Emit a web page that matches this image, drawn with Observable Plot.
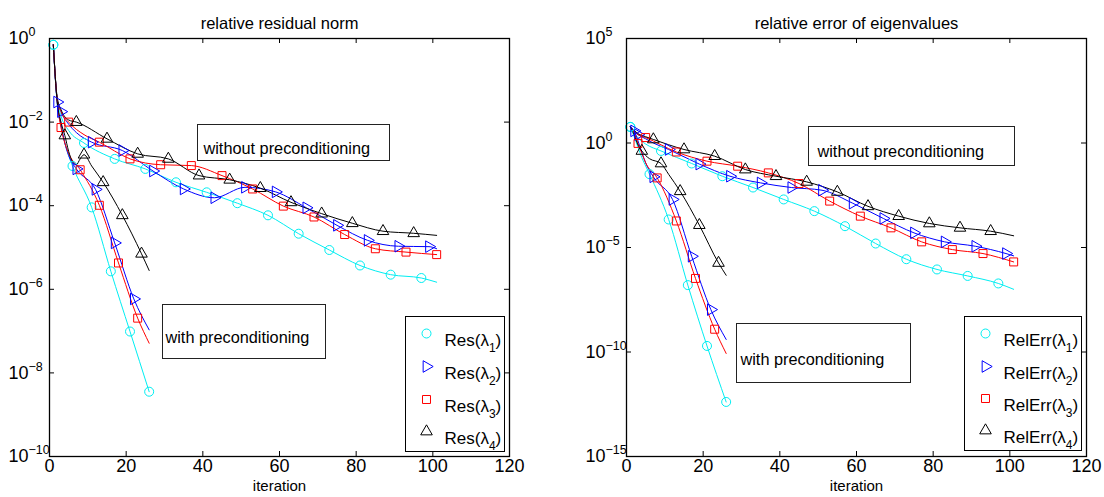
<!DOCTYPE html>
<html><head><meta charset="utf-8">
<script src="https://cdn.jsdelivr.net/npm/d3@7"></script>
<script src="https://cdn.jsdelivr.net/npm/@observablehq/plot@0.6"></script>
<style>
body{margin:0;background:#fff;}
#wrap{display:flex;width:1104px;height:497px;overflow:hidden;}
</style></head><body><div id="wrap"></div>
<script>
// ---------- tick labels ----------
const iterTicks = [0, 20, 40, 60, 80, 100, 120];
const resTickExp = [0, -2, -4, -6, -8, -10];
const errTickExp = [5, 0, -5, -10, -15];

// ---------- titles / labels ----------
const titles = ["relative residual norm", "relative error of eigenvalues"];
const xLabel = "iteration";
const resNames = ["Res(λ_1)", "Res(λ_2)", "Res(λ_3)", "Res(λ_4)"];
const errNames = ["RelErr(λ_1)", "RelErr(λ_2)", "RelErr(λ_3)", "RelErr(λ_4)"];
const noteTexts = ["without preconditioning", "with preconditioning"];

// ---------- relative residual norm: [iteration, log10(value)] ----------
const res1Plain = [[1,-0.15],[2,-1.45],[3,-1.85],[5,-2.2],[9,-2.50],[17,-2.88],[25,-3.12],[33,-3.44],[41,-3.68],[49,-3.94],[57,-4.23],[65,-4.67],[73,-5.06],[81,-5.43],[89,-5.65],[97,-5.73],[101,-5.83]];
const res2Plain = [[1,-0.15],[2,-1.45],[3,-1.75],[5,-2.05],[7,-2.25],[11,-2.48],[19,-2.68],[27,-3.17],[35,-3.60],[43,-3.81],[51,-3.56],[59,-3.67],[67,-4.05],[75,-4.47],[83,-4.83],[91,-4.97],[99,-4.98],[101,-5.03]];
const res3Plain = [[1,-0.15],[2,-1.45],[3,-1.75],[5,-2.0],[9,-2.3],[13,-2.48],[21,-2.88],[29,-3.02],[37,-3.04],[45,-3.28],[53,-3.60],[61,-4.01],[69,-4.27],[77,-4.69],[85,-5.03],[93,-5.11],[101,-5.17]];
const res4Plain = [[1,-0.15],[2,-1.4],[3,-1.7],[5,-1.95],[7,-2.0],[15,-2.40],[23,-2.76],[31,-2.88],[39,-3.28],[47,-3.38],[55,-3.58],[63,-3.92],[71,-4.19],[79,-4.42],[87,-4.61],[95,-4.66],[101,-4.71]];
const res1Pre = [[1,-0.15],[2,-1.55],[3,-2.1],[4,-2.5],[5,-2.8],[6,-3.05],[11,-4.04],[16,-5.57],[21,-7.01],[26,-8.45]];
const res2Pre = [[1,-0.15],[2,-1.52],[3,-2.05],[4,-2.5],[5,-2.8],[7,-3.12],[12,-3.61],[17,-4.89],[22,-6.23],[26,-6.97]];
const res3Pre = [[1,-0.15],[2,-1.5],[3,-2.13],[4,-2.5],[5,-2.75],[8,-3.14],[13,-3.99],[18,-5.37],[23,-6.69],[26,-7.29]];
const res4Pre = [[1,-0.15],[2,-1.5],[3,-2.0],[4,-2.32],[5,-2.7],[6,-2.95],[7,-3.02],[8,-2.88],[9,-2.78],[11,-3.05],[14,-3.44],[19,-4.23],[24,-5.15],[26,-5.55]];

// ---------- relative error of eigenvalues: [iteration, log10(value)] ----------
const err1Plain = [[1,0.77],[2,0.5],[3,0.25],[5,-0.05],[9,-0.38],[17,-0.98],[25,-1.59],[33,-2.13],[41,-2.70],[49,-3.26],[57,-3.98],[65,-4.81],[73,-5.56],[81,-6.05],[89,-6.36],[97,-6.72],[101,-7.00]];
const err2Plain = [[1,0.77],[2,0.55],[3,0.4],[5,0.2],[7,0.0],[11,-0.31],[19,-1.01],[27,-1.59],[35,-1.91],[43,-2.13],[51,-2.26],[59,-2.88],[67,-3.61],[75,-4.30],[83,-4.73],[91,-4.94],[99,-5.29],[101,-5.40]];
const err3Plain = [[1,0.77],[2,0.55],[3,0.4],[5,0.26],[13,-0.43],[21,-0.87],[29,-1.11],[37,-1.43],[45,-1.94],[53,-2.78],[61,-3.50],[69,-4.06],[77,-4.73],[85,-5.10],[93,-5.29],[101,-5.69]];
const err4Plain = [[1,0.77],[2,0.6],[3,0.45],[5,0.3],[7,0.17],[15,-0.31],[23,-0.63],[31,-1.27],[39,-1.59],[47,-1.86],[55,-2.34],[63,-3.03],[71,-3.50],[79,-3.85],[87,-4.06],[95,-4.22],[101,-4.44]];
const err1Pre = [[1,0.77],[2,0.3],[3,-0.2],[4,-0.7],[5,-1.1],[6,-1.49],[11,-3.66],[16,-6.80],[21,-9.71],[26,-12.39]];
const err2Pre = [[1,0.77],[2,0.58],[3,0.1],[4,-0.45],[5,-0.95],[7,-1.62],[12,-2.70],[17,-5.42],[22,-7.97],[26,-9.40]];
const err3Pre = [[1,0.77],[2,0.5],[3,-0.02],[4,-0.5],[5,-0.95],[8,-1.67],[13,-3.73],[18,-6.48],[23,-8.91],[26,-10.07]];
const err4Pre = [[1,0.77],[2,0.4],[3,-0.1],[4,-0.38],[5,-0.6],[6,-0.75],[9,-0.98],[11,-1.5],[14,-2.31],[19,-3.93],[24,-5.74],[26,-6.33]];

// ---------- styles ----------
const colors = ["#00eef2", "#0000ff", "#ff0000", "#000000"];
const triRight = {
  draw(ctx, size) {
    const y = -Math.sqrt(size / (Math.sqrt(3) * 3));
    ctx.moveTo(-2 * y, 0);
    ctx.lineTo(y, -Math.sqrt(3) * y);
    ctx.lineTo(y, Math.sqrt(3) * y);
    ctx.closePath();
  }
};
const symbols = ["circle", triRight, "square", "triangle"];
const radii = [4.5, 4.3, 4.5, 4.3];
const FONT = "'Liberation Sans', Arial, Helvetica, sans-serif";

function makeSeries(plain, pre) {
  const out = [];
  plain.forEach((d, i) => out.push({data: d, k: i, off: 1 + 2 * i, step: 8}));
  pre.forEach((d, i) => out.push({data: d, k: i, off: 1 + i, step: 5}));
  return out;
}

function panel(o) {
  const marks = [];
  for (const s of o.series) {
    marks.push(Plot.line(s.data, {x: d => d[0], y: d => 10 ** d[1], stroke: colors[s.k], strokeWidth: 1, curve: "monotone-x"}));
  }
  for (const s of o.series) {
    marks.push(Plot.dot(s.data.filter(d => (d[0] - s.off) % s.step === 0),
      {x: d => d[0], y: d => 10 ** d[1], symbol: symbols[s.k], stroke: colors[s.k], fill: "none", r: radii[s.k], strokeWidth: 1}));
  }
  for (const b of o.notes) {
    marks.push(Plot.frame({insetLeft: b.l, insetRight: b.r, insetTop: b.t, insetBottom: b.b, fill: "white", stroke: "#222", strokeWidth: 1}));
    marks.push(Plot.text([b.text], {text: d => d, frameAnchor: "top-left", dx: b.tx, dy: b.ty, textAnchor: "start", fontSize: 16.3}));
  }
  const L = o.legend;
  marks.push(Plot.frame({insetLeft: L.l, insetRight: L.r, insetTop: L.t, insetBottom: L.b, fill: "white", stroke: "#000", strokeWidth: 1}));
  o.names.forEach((nm, i) => {
    marks.push(Plot.dot([nm], {frameAnchor: "top-left", dx: L.mx, dy: L.rows[i], symbol: symbols[i], stroke: colors[i], fill: "none", r: radii[i], strokeWidth: 1}));
    marks.push(Plot.text([nm], {text: d => d, frameAnchor: "top-left", dx: L.tx, dy: L.rows[i], textAnchor: "start", fontSize: 17}));
  });
  const fw = o.width - o.marginLeft - o.marginRight;
  const fh = o.height - o.marginTop - o.marginBottom;
  const tl = 5;
  marks.push(Plot.frame({stroke: "#000", strokeWidth: 1.3}));
  marks.push(Plot.ruleX(iterTicks, {x: d => d, insetTop: fh - tl, stroke: "#000"}));
  marks.push(Plot.ruleX(iterTicks, {x: d => d, insetBottom: fh - tl, stroke: "#000"}));
  marks.push(Plot.ruleY(o.yTickExp, {y: d => 10 ** d, insetRight: fw - tl, stroke: "#000"}));
  marks.push(Plot.ruleY(o.yTickExp, {y: d => 10 ** d, insetLeft: fw - tl, stroke: "#000"}));
  marks.push(Plot.text(iterTicks, {x: d => d, text: d => String(d), frameAnchor: "bottom", dy: 15, fontSize: 18}));
  marks.push(Plot.text(o.yTickExp, {y: d => 10 ** d, text: d => "10^" + (d < 0 ? "\u2212" + (-d) : String(d)), frameAnchor: "left", dx: -41, textAnchor: "start", fontSize: 18}));
  marks.push(Plot.text([o.title], {text: d => d, frameAnchor: "top", dy: -21, fontSize: 16.5}));
  marks.push(Plot.text([xLabel], {text: d => d, frameAnchor: "bottom", dy: 34, fontSize: 15}));

  const svg = Plot.plot({
    width: o.width, height: o.height,
    marginLeft: o.marginLeft, marginRight: o.marginRight, marginTop: o.marginTop, marginBottom: o.marginBottom,
    x: {domain: [0, 120], axis: null},
    y: {type: "log", domain: o.yDomain, axis: null},
    style: {fontFamily: FONT, fontSize: "16px", background: "white", color: "#000", overflow: "visible"},
    marks
  });
  fixScripts(svg);
  return svg;
}

function fixScripts(svg) {
  const ns = "http://www.w3.org/2000/svg";
  svg.querySelectorAll("text").forEach(t => {
    const s = t.textContent;
    let m = s.match(/^10\^(.+)$/);
    if (m) {
      t.textContent = "10";
      const ts = document.createElementNS(ns, "tspan");
      ts.setAttribute("dy", "-8");
      ts.setAttribute("font-size", "12.5");
      ts.textContent = m[1];
      t.appendChild(ts);
      return;
    }
    m = s.match(/^(.*)_(\d)\)$/);
    if (m) {
      t.textContent = m[1];
      const sub = document.createElementNS(ns, "tspan");
      sub.setAttribute("dy", "6");
      sub.setAttribute("font-size", "12");
      sub.textContent = m[2];
      const cl = document.createElementNS(ns, "tspan");
      cl.setAttribute("dy", "-6");
      cl.textContent = ")";
      t.appendChild(sub);
      t.appendChild(cl);
    }
  });
}

const wrap = document.getElementById("wrap");
wrap.appendChild(panel({
  title: titles[0], width: 552, height: 497,
  marginLeft: 49, marginRight: 43, marginTop: 38, marginBottom: 41,
  yDomain: [1e-10, 1], yTickExp: resTickExp,
  series: makeSeries([res1Plain, res2Plain, res3Plain, res4Plain], [res1Pre, res2Pre, res3Pre, res4Pre]),
  names: resNames,
  notes: [
    {text: noteTexts[0], l: 148, r: 120, t: 86, b: 296, tx: 154, ty: 104},
    {text: noteTexts[1], l: 113, r: 184, t: 266, b: 98, tx: 116, ty: 293}
  ],
  legend: {l: 356, r: 5, t: 278, b: 5, mx: 377, tx: 395, rows: [295, 328, 361, 393]}
}));
wrap.appendChild(panel({
  title: titles[1], width: 552, height: 497,
  marginLeft: 74, marginRight: 18, marginTop: 38, marginBottom: 41,
  yDomain: [1e-15, 1e5], yTickExp: errTickExp,
  series: makeSeries([err1Plain, err2Plain, err3Plain, err4Plain], [err1Pre, err2Pre, err3Pre, err4Pre]),
  names: errNames,
  notes: [
    {text: noteTexts[0], l: 182, r: 72, t: 88, b: 291, tx: 191, ty: 107},
    {text: noteTexts[1], l: 110, r: 176, t: 285, b: 74, tx: 114, ty: 315}
  ],
  legend: {l: 338, r: 5, t: 278, b: 6, mx: 359, tx: 377, rows: [295, 328, 360, 392]}
}));
</script></body></html>
